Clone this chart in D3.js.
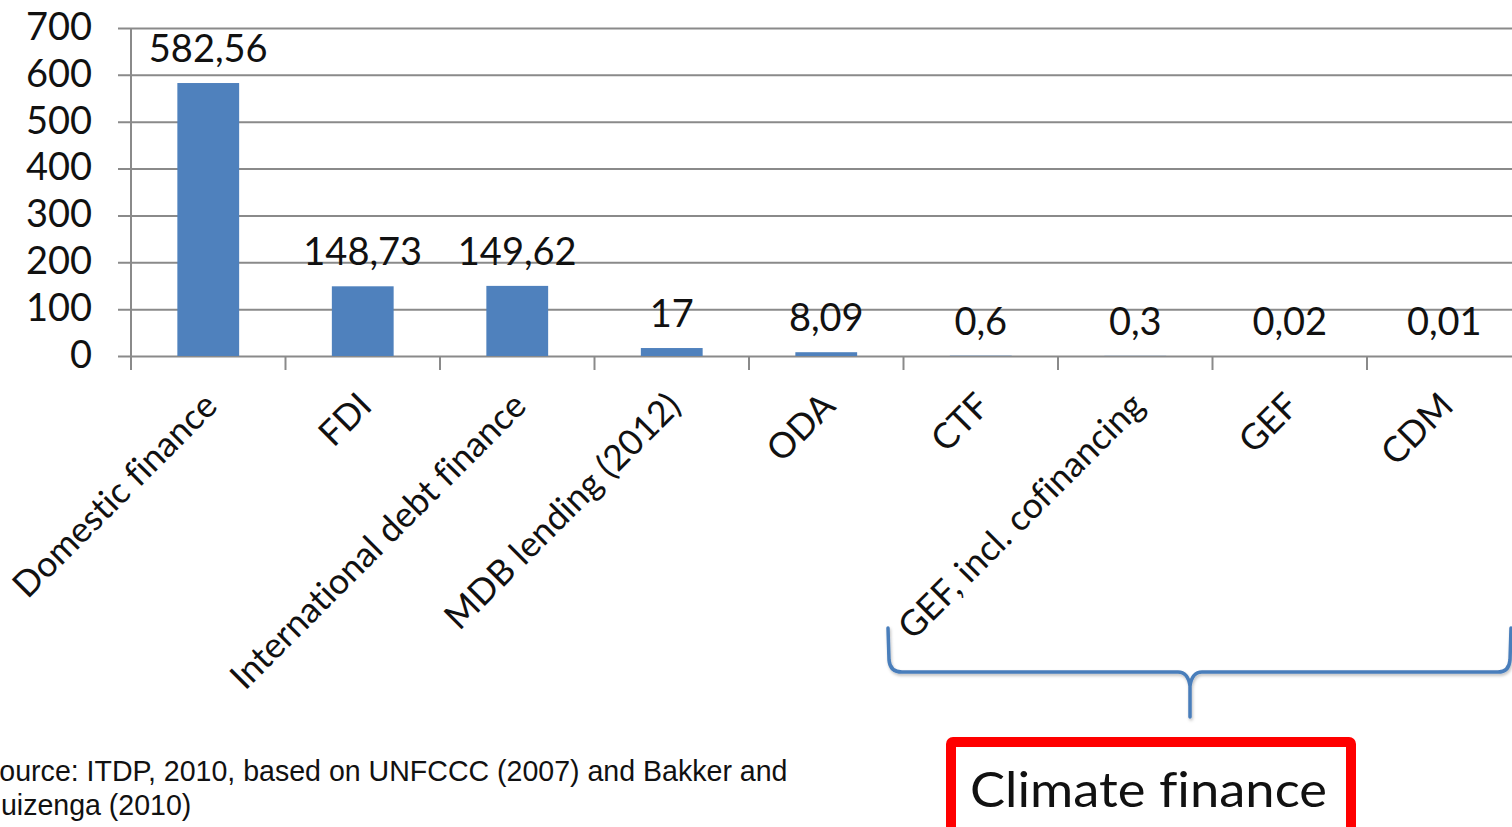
<!DOCTYPE html>
<html>
<head>
<meta charset="utf-8">
<script src="https://cdn.jsdelivr.net/npm/d3@7"></script>
<style>
  html, body { margin: 0; padding: 0; background: #fff; overflow: hidden; }
  svg { display: block; }
  text { font-variant-ligatures: none; }
</style>
</head>
<body>
<svg id="chart" width="1512" height="827"></svg>
<script>
// Sources of finance (billion USD)
const categories = [
  "Domestic finance", "FDI", "International debt finance", "MDB lending (2012)",
  "ODA", "CTF", "GEF, incl. cofinancing", "GEF", "CDM"
];
const values = [582.56, 148.73, 149.62, 17, 8.09, 0.6, 0.3, 0.02, 0.01];
const yTicks = [0, 100, 200, 300, 400, 500, 600, 700];
const sourceLines = [
  "Source: ITDP, 2010, based on UNFCCC (2007) and Bakker and",
  "Huizenga (2010)"
];
const bracketLabel = "Climate finance";

const svg = d3.select("#chart");
const W = 1512, H = 827;
const plot = { left: 131, right: 1521.5, top: 28, bottom: 356 };

const FONT = "Lato, 'Open Sans', sans-serif";
const gridColor = "#8a8a8a";
const barColor = "#4F81BD";

const x = d3.scaleBand()
  .domain(categories)
  .range([plot.left, plot.right])
  .paddingInner(0.6)
  .paddingOuter(0.3);

const y = d3.scaleLinear()
  .domain([0, 700])
  .range([plot.bottom, plot.top]);

const fmt = v => String(v).replace(".", ",");

// horizontal gridlines with left tick marks and labels
const yAxis = d3.axisLeft(y)
  .tickValues(yTicks)
  .tickSize(-(W - plot.left))
  .tickSizeOuter(0)
  .tickPadding(39)
  .tickFormat(d3.format("d"));

const gy = svg.append("g")
  .attr("transform", `translate(${plot.left},0)`)
  .call(yAxis);
gy.select(".domain").remove();
gy.selectAll(".tick line")
  .attr("x1", -13)
  .attr("x2", W - plot.left)
  .attr("stroke", gridColor)
  .attr("stroke-width", 2);
gy.selectAll(".tick text")
  .attr("font-family", FONT)
  .attr("font-size", 38)
  .attr("fill", "#111")
  .attr("dy", "0.30em");

// vertical axis line
svg.append("line")
  .attr("x1", plot.left).attr("x2", plot.left)
  .attr("y1", y(700)).attr("y2", plot.bottom + 14)
  .attr("stroke", gridColor).attr("stroke-width", 2);

// category tick marks at band boundaries
const step = x.step();
const boundaries = d3.range(categories.length + 1).map(i => plot.left + i * step);
svg.append("g").selectAll("line")
  .data(boundaries)
  .join("line")
  .attr("x1", d => d).attr("x2", d => d)
  .attr("y1", plot.bottom).attr("y2", plot.bottom + 14)
  .attr("stroke", gridColor).attr("stroke-width", 2);

// bars
svg.append("g").selectAll("rect")
  .data(values)
  .join("rect")
  .attr("x", (d, i) => x(categories[i]))
  .attr("width", x.bandwidth())
  .attr("y", d => y(d))
  .attr("height", d => y(0) - y(d))
  .attr("fill", barColor);

// value labels
svg.append("g").selectAll("text")
  .data(values)
  .join("text")
  .attr("x", (d, i) => x(categories[i]) + x.bandwidth() / 2)
  .attr("y", d => y(d) - 21)
  .attr("text-anchor", "middle")
  .attr("font-family", FONT)
  .attr("font-size", 38)
  .attr("fill", "#111")
  .text(d => fmt(d));

// rotated category labels
svg.append("g").selectAll("text")
  .data(categories)
  .join("text")
  .attr("transform", d => {
    const cx = x(d) + x.bandwidth() / 2 + 11;
    return `translate(${cx},${plot.bottom + 52}) rotate(-45)`;
  })
  .attr("text-anchor", "end")
  .attr("font-family", FONT)
  .attr("font-size", 35.5)
  .attr("fill", "#111")
  .text(d => d);

// source note
svg.append("g").selectAll("text")
  .data(sourceLines)
  .join("text")
  .attr("x", -20)
  .attr("y", (d, i) => 781 + i * 34)
  .attr("font-family", "'Liberation Sans', Arial, sans-serif")
  .attr("font-size", 29)
  .attr("fill", "#111")
  .attr("transform", "scale(0.985,1)")
  .text(d => d);

// curly bracket grouping the climate finance instruments
const defs = svg.append("defs");
const f = defs.append("filter").attr("id", "soft").attr("x", "-5%").attr("y", "-20%").attr("width", "110%").attr("height", "140%");
f.append("feDropShadow").attr("dx", 1).attr("dy", 2).attr("stdDeviation", 1.5).attr("flood-color", "#000").attr("flood-opacity", 0.25);

const braceTop = 628, braceMid = 672, braceTip = 717;
const bl = 888, bc = 1190, br = 1510;
const brace = d3.path();
brace.moveTo(bl, braceTop);
brace.lineTo(bl + 1, braceMid - 12);
brace.quadraticCurveTo(bl + 2, braceMid, bl + 14, braceMid);
brace.lineTo(bc - 12, braceMid);
brace.quadraticCurveTo(bc - 2, braceMid, bc, braceMid + 14);
brace.lineTo(bc, braceTip);
brace.moveTo(bc, braceMid + 14);
brace.quadraticCurveTo(bc + 2, braceMid, bc + 12, braceMid);
brace.lineTo(br - 12, braceMid);
brace.quadraticCurveTo(br - 1, braceMid, br, braceMid - 12);
brace.lineTo(br + 1, braceTop);

svg.append("path")
  .attr("d", brace.toString())
  .attr("fill", "none")
  .attr("stroke", "#4A7EBB")
  .attr("stroke-width", 3.5)
  .attr("stroke-linecap", "round")
  .attr("stroke-linejoin", "round")
  .attr("filter", "url(#soft)");

// boxed caption
svg.append("rect")
  .attr("x", 951).attr("y", 742)
  .attr("width", 400).attr("height", 110)
  .attr("rx", 2)
  .attr("fill", "#fff")
  .attr("stroke", "#ff0000")
  .attr("stroke-width", 10);

svg.append("text")
  .attr("x", 970).attr("y", 807)
  .attr("font-family", FONT)
  .attr("font-size", 48)
  .attr("textLength", 357)
  .attr("lengthAdjust", "spacingAndGlyphs")
  .attr("fill", "#111")
  .text(bracketLabel);
</script>
</body>
</html>
